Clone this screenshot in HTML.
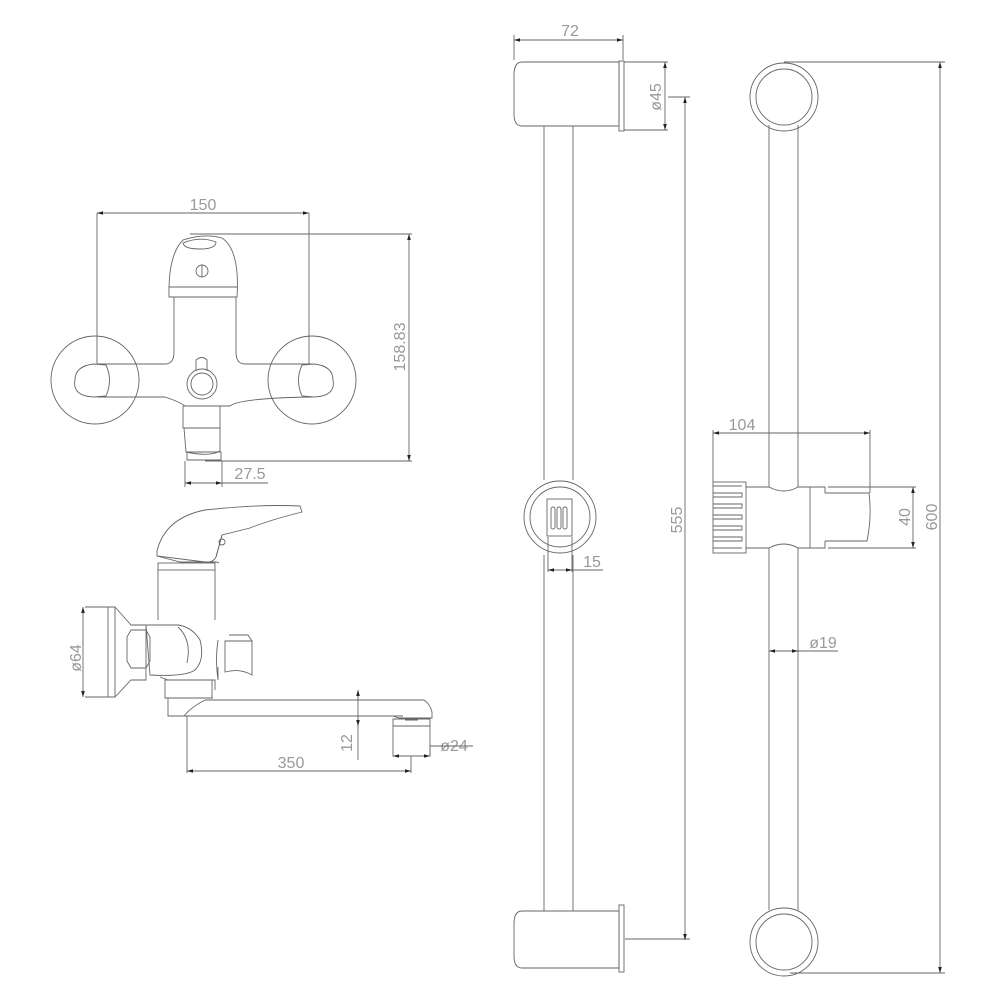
<!DOCTYPE html>
<html><head><style>html,body{margin:0;padding:0;background:#fff}svg{display:block}</style></head><body>
<svg width="1000" height="1000" viewBox="0 0 1000 1000" xmlns="http://www.w3.org/2000/svg" fill="none" stroke="#666" stroke-width="0.9" font-family="Liberation Sans, sans-serif">
<defs><marker id="a" viewBox="0 0 10 6" refX="10" refY="3" markerWidth="8" markerHeight="4" orient="auto-start-reverse"><path d="M0 0L10 3L0 6z" fill="#222" stroke="none"/></marker></defs>
<g fill="#999" stroke="none" font-size="16">
<text x="570" y="36" text-anchor="middle">72</text>
<text transform="translate(661,97) rotate(-90)" text-anchor="middle">ø45</text>
<text transform="translate(682,520) rotate(-90)" text-anchor="middle">555</text>
<text x="592" y="567" text-anchor="middle">15</text>
<text x="742" y="430" text-anchor="middle">104</text>
<text transform="translate(910,517) rotate(-90)" text-anchor="middle">40</text>
<text transform="translate(937,517) rotate(-90)" text-anchor="middle">600</text>
<text x="823" y="648" text-anchor="middle">ø19</text>
<text x="203" y="210" text-anchor="middle">150</text>
<text transform="translate(405,347) rotate(-90)" text-anchor="middle">158.83</text>
<text x="250" y="479" text-anchor="middle">27.5</text>
<text transform="translate(81,658) rotate(-90)" text-anchor="middle">ø64</text>
<text transform="translate(352,743) rotate(-90)" text-anchor="middle">12</text>
<text x="454" y="751" text-anchor="middle">ø24</text>
<text x="291" y="768" text-anchor="middle">350</text>
</g>
<!-- left bar side view -->
<path d="M619 62H522Q514 62 514 75V114Q514 126 522 126H619Z"/>
<rect x="619" y="61" width="5" height="70"/>
<path d="M544 126V480M573 126V480M544 555V911M573 555V911"/>
<path d="M619 911H522Q514 911 514 924V956Q514 968 522 968H619Z"/>
<rect x="619" y="905" width="5" height="67"/>
<circle cx="560" cy="517" r="36"/><circle cx="560" cy="517" r="30"/>
<rect x="547" y="499" width="25" height="37"/>
<rect x="551" y="507" width="4" height="22" rx="2"/><rect x="557" y="507" width="4" height="22" rx="2"/><rect x="563" y="507" width="4" height="22" rx="2"/>
<path d="M548 537V572M572 537V572M572 570H603" />
<line x1="548" y1="570" x2="572" y2="570" marker-start="url(#a)" marker-end="url(#a)"/>
<path d="M514 35V60M623 35V60"/>
<line x1="514" y1="40" x2="623" y2="40" marker-start="url(#a)" marker-end="url(#a)"/>
<path d="M624 62H668M624 130H668M668 97H690M625 939H690"/>
<line x1="665" y1="62" x2="665" y2="130" marker-start="url(#a)" marker-end="url(#a)"/>
<line x1="685" y1="97" x2="685" y2="940" marker-start="url(#a)" marker-end="url(#a)"/>
<!-- right bar front view -->
<circle cx="784" cy="97" r="34"/><circle cx="784" cy="97" r="28"/>
<circle cx="784" cy="942" r="34"/><circle cx="784" cy="942" r="28"/>
<path d="M769 125V487M798 125V487M769 548V910M798 548V910"/>
<path d="M784 62H945M790 973H945"/>
<line x1="940" y1="62" x2="940" y2="973" marker-start="url(#a)" marker-end="url(#a)"/>
<rect x="713" y="482" width="33" height="71"/>
<path d="M713 486h29M713 493h29v4h-29M713 504h29v4h-29M713 515h29v4h-29M713 526h29v4h-29M713 537h29v4h-29M713 548h29"/>
<path d="M746 487H769Q784 495 798 487H810V548H798Q784 540 769 548H746"/>
<path d="M810 487H825V493M810 548H825V541M828 487H870M828 548H870M825 493H869Q872 517 867 541H825"/>
<path d="M713 482V430M870 493V430M870 487H916M870 548H916"/>
<line x1="713" y1="433" x2="870" y2="433" marker-start="url(#a)" marker-end="url(#a)"/>
<line x1="913" y1="487" x2="913" y2="548" marker-start="url(#a)" marker-end="url(#a)"/>
<path d="M798 651H838"/>
<line x1="769" y1="651" x2="798" y2="651" marker-start="url(#a)" marker-end="url(#a)"/>
<!-- faucet front view -->
<circle cx="95" cy="380" r="44"/><circle cx="312" cy="380" r="44"/>
<path d="M94 364L106 365Q113 380 106 396L94 397Q72 396 75 380Q75 366 94 364Z"/>
<path d="M314 364L302 365Q295 380 302 396L314 397Q336 396 333 380Q333 366 314 364Z"/>
<path d="M97 364H165Q174 364 174 352V297H236V352Q236 364 245 364H312M97 397H165Q180 402 185 406H230Q240 398 312 397"/>
<path d="M169 297Q168 255 183 240Q204 233 222 238Q240 250 237 297Z"/>
<path d="M169 287H237M172 297H235M183 243Q200 236 216 242Q216 249 200 249Q184 249 183 243Z"/>
<circle cx="202" cy="271" r="6"/><path d="M202 265V277"/>
<circle cx="202" cy="384" r="15"/><circle cx="202" cy="384" r="11"/>
<path d="M196 371V360Q202 355 207 360V371"/>
<rect x="183" y="406" width="37" height="22"/>
<path d="M184 428H220V451Q210 457 186 452Z"/>
<path d="M187 452H221V460H187Z"/>
<path d="M97 213V364M309 213V364M190 234H412M205 461H412M185 461V487M222 461V487M222 483H268"/>
<line x1="97" y1="213" x2="309" y2="213" marker-start="url(#a)" marker-end="url(#a)"/>
<line x1="409" y1="234" x2="409" y2="461" marker-start="url(#a)" marker-end="url(#a)"/>
<line x1="185" y1="483" x2="222" y2="483" marker-start="url(#a)" marker-end="url(#a)"/>
<!-- faucet side view -->
<path d="M157 551Q165 518 205 510Q260 504 300 506L302 512Q270 520 250 528L222 535L216 557Q213 563 205 562L157 556Z"/>
<path d="M157 556L180 562H217L219 563M222 535L216 557"/>
<circle cx="222" cy="542" r="3"/>
<rect x="158" y="563" width="57" height="7"/>
<path d="M158 570V620M215 570V620"/>
<path d="M108 607H115V697H108ZM115 607L131 625H146V680H131L115 697"/>
<path d="M131 630H146L150 637V661L146 668H131L127 661V637Z"/>
<path d="M146 625H178Q192 627 200 640Q205 660 195 670Q185 677 150 675Z"/>
<path d="M178 627Q192 640 187 663"/>
<path d="M160 677L168 680H215V690"/>
<path d="M218 640Q215 660 218 680V667"/>
<path d="M225 641H252V675Q240 668 225 672Z"/>
<path d="M229 635H248L252 641"/>
<path d="M165 680H212V698H165Z"/>
<path d="M168 698H213M168 698V716H184Q190 708 205 700M184 716H403M205 700H424Q430 704 432 712V718H399L393 716"/>
<path d="M393 719H430V726H393ZM393 726V756H430V726M405 720H418"/>
<path d="M358 690V720M358 724V760"/>
<line x1="358" y1="700" x2="358" y2="690" marker-end="url(#a)"/>
<line x1="358" y1="716" x2="358" y2="726" marker-end="url(#a)"/>
<path d="M85 607H115M85 697H115M187 716V773M411 756V773M430 756V746H473"/>
<line x1="83" y1="607" x2="83" y2="697" marker-start="url(#a)" marker-end="url(#a)"/>
<line x1="187" y1="771" x2="411" y2="771" marker-start="url(#a)" marker-end="url(#a)"/>
<line x1="393" y1="756" x2="430" y2="756" marker-start="url(#a)" marker-end="url(#a)"/>
</svg>
</body></html>
